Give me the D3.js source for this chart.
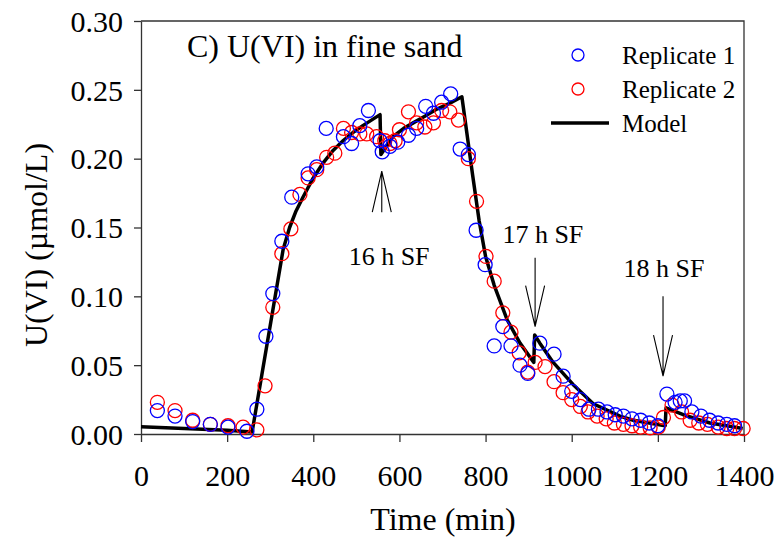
<!DOCTYPE html>
<html>
<head>
<meta charset="utf-8">
<script src="https://cdn.jsdelivr.net/npm/d3@7"></script>
<style>
  body { margin: 0; background: #fff; }
  text { font-family: "Liberation Serif", "Times New Roman", serif; fill: #000; }
</style>
</head>
<body>
<div id="chart-area"></div>
<script>
/** Data **/
const rep1Time = [38, 79, 120, 161, 202, 246, 269, 290, 306, 327, 350, 388, 408, 430, 470, 489, 508, 528,
    555, 560, 578, 596, 621, 640, 661, 679, 698, 719, 741, 760, 778, 799, 820, 840, 859, 880, 898,
    926, 959, 980, 1000, 1020, 1040, 1062, 1082, 1101, 1120, 1140, 1160, 1180, 1200,
    1221, 1240, 1252, 1262, 1279, 1300, 1320, 1340, 1360, 1378];
const rep1Value = [0.017, 0.013, 0.009, 0.007, 0.005, 0.002, 0.018, 0.071, 0.102, 0.140, 0.172, 0.189, 0.194, 0.222, 0.216, 0.211, 0.224, 0.235,
    0.213, 0.205, 0.209, 0.212, 0.217, 0.222, 0.238, 0.233, 0.241, 0.247, 0.207, 0.203, 0.148, 0.123, 0.064, 0.078, 0.064, 0.050, 0.044,
    0.066, 0.058, 0.042, 0.031, 0.025, 0.018, 0.018, 0.016, 0.014, 0.013, 0.011, 0.010, 0.008, 0.006,
    0.029, 0.023, 0.024, 0.024, 0.016, 0.013, 0.010, 0.008, 0.007, 0.006];

const rep2Time = [38, 79, 120, 161, 202, 237, 269, 288, 306, 327, 348, 369, 388, 408, 431, 450, 470, 489, 508, 524,
    547, 566, 578, 590, 600, 621, 640, 659, 679, 698, 717, 737, 760, 779, 801, 820, 840, 859, 878, 898,
    915, 938, 959, 980, 1000, 1020, 1038, 1059, 1080, 1099, 1120, 1140, 1160, 1182, 1201,
    1213, 1233, 1255, 1275, 1295, 1315, 1340, 1360, 1378, 1398];
const rep2Value = [0.023, 0.017, 0.010, 0.007, 0.006, 0.005, 0.003, 0.035, 0.092, 0.131, 0.149, 0.174, 0.186, 0.192, 0.201, 0.204, 0.222, 0.219, 0.218, 0.218,
    0.216, 0.213, 0.211, 0.213, 0.221, 0.234, 0.226, 0.223, 0.226, 0.235, 0.234, 0.228, 0.200, 0.169, 0.129, 0.111, 0.088, 0.074, 0.059, 0.045,
    0.052, 0.049, 0.038, 0.030, 0.025, 0.020, 0.016, 0.013, 0.011, 0.008, 0.007, 0.006, 0.005, 0.0045, 0.005,
    0.012, 0.021, 0.016, 0.010, 0.008, 0.007, 0.005, 0.004, 0.004, 0.004];

const modelTime = [0, 100, 200, 258, 330, 345, 360, 376, 400, 423, 446, 469, 492, 515, 535, 555,
    557, 585, 610, 632, 660, 687, 715, 745,
    770, 785, 800, 820, 850, 880, 912,
    914, 926, 957, 1003, 1050, 1112, 1143, 1180, 1217,
    1219, 1259, 1290, 1321, 1360, 1397];
const modelValue = [0.0052, 0.0040, 0.0028, 0.0015, 0.134, 0.150, 0.162, 0.172, 0.186, 0.197, 0.206, 0.213, 0.219, 0.224, 0.228, 0.232,
    0.203, 0.216, 0.222, 0.226, 0.231, 0.236, 0.240, 0.245,
    0.188, 0.155, 0.129, 0.108, 0.083, 0.066, 0.052,
    0.072, 0.066, 0.052, 0.036, 0.022, 0.013, 0.010, 0.008, 0.006,
    0.019, 0.014, 0.011, 0.008, 0.006, 0.004];

const xTicks = [0, 200, 400, 600, 800, 1000, 1200, 1400];
const yTicks = [0, 0.05, 0.10, 0.15, 0.20, 0.25, 0.30];

const annLabel = ['16 h SF', '17 h SF', '18 h SF'];
const annTime  = [559, 915, 1212];
const annTip   = [0.191, 0.078, 0.042];
const annTail  = [0.161, 0.128, 0.100];
const annTextTime  = [576, 933, 1214];
const annTextValue = [0.1228, 0.1388, 0.1141];

const legendLabels = ['Replicate 1', 'Replicate 2', 'Model'];

/** SVG **/
const margin = { left: 141, right: 37, top: 21, bottom: 106 };
const width  = 781 - margin.left - margin.right;
const height = 540 - margin.top - margin.bottom;

const svg = d3.select('#chart-area')
    .append('svg')
    .attr('width', 781)
    .attr('height', 540);

const g = svg.append('g')
    .attr('transform', `translate(${margin.left}, ${margin.top})`);

/* Scales */
const x = d3.scaleLinear().domain([0, 1400]).range([0, width]);
const y = d3.scaleLinear().domain([0, 0.30]).range([height, 0]);

/* Frame (top + right) */
g.append('path')
    .attr('d', `M0,0H${width}V${height}`)
    .attr('fill', 'none')
    .attr('stroke', '#333')
    .attr('stroke-width', 1.3);

/* Axis */
const xAxis = g.append('g')
    .attr('transform', `translate(0,${height})`)
    .call(d3.axisBottom(x).tickValues(xTicks).tickSizeInner(8).tickSizeOuter(0).tickFormat(d3.format('d')));

const yAxis = g.append('g')
    .call(d3.axisLeft(y).tickValues(yTicks).tickSizeInner(7).tickSizeOuter(0).tickFormat(d3.format('.2f')));

[xAxis, yAxis].forEach(a => {
    a.selectAll('path, line').attr('stroke', '#333').attr('stroke-width', 1.3);
    a.selectAll('text').attr('font-family', '"Liberation Serif", serif').attr('font-size', '30px').attr('fill', '#000');
});
xAxis.selectAll('text').attr('y', 31).attr('dy', '0.71em');
yAxis.selectAll('text').attr('x', -18).attr('dy', '0.34em');

/* Labels */
svg.append('text')
    .attr('x', 443).attr('y', 530)
    .attr('text-anchor', 'middle')
    .attr('font-size', '32px')
    .text('Time (min)');

svg.append('text')
    .attr('transform', 'translate(47,245) rotate(-90)')
    .attr('text-anchor', 'middle')
    .attr('font-size', '32px')
    .text('U(VI) (µmol/L)');

svg.append('text')
    .attr('x', 187).attr('y', 57)
    .attr('font-size', '32px')
    .text('C) U(VI) in fine sand');

/* Model line */
const model = modelTime.map((t, i) => [t, modelValue[i]]);
g.append('path')
    .datum(model)
    .attr('fill', 'none')
    .attr('stroke', '#000')
    .attr('stroke-width', 3.5)
    .attr('stroke-linejoin', 'round')
    .attr('d', d3.line().x(d => x(d[0])).y(d => y(d[1])));

/* Scatter */
const scatter = (times, values, colour) => {
    g.append('g').selectAll('circle')
        .data(times.map((t, i) => [t, values[i]]))
        .enter().append('circle')
            .attr('cx', d => x(d[0]))
            .attr('cy', d => y(d[1]))
            .attr('r', 7)
            .attr('fill', 'none')
            .attr('stroke', colour)
            .attr('stroke-width', 1.3);
};
scatter(rep2Time, rep2Value, '#ff0000');
scatter(rep1Time, rep1Value, '#0000ff');

/* Arrows */
annLabel.forEach((lab, i) => {
    const ax = x(annTime[i]), tip = y(annTip[i]), tail = y(annTail[i]);
    const dir = tail > tip ? 1 : -1;
    g.append('path')
        .attr('d', `M${ax},${tail}L${ax},${tip}M${ax - 9.5},${tip + dir * 41}L${ax},${tip}L${ax + 9.5},${tip + dir * 41}`)
        .attr('fill', 'none')
        .attr('stroke', '#000')
        .attr('stroke-width', 1.1);
    g.append('text')
        .attr('x', x(annTextTime[i])).attr('y', y(annTextValue[i]))
        .attr('text-anchor', 'middle')
        .attr('font-size', '26px')
        .text(lab);
});

/* Legend */
const legend = svg.append('g').attr('transform', 'translate(578,55)');
legendLabels.forEach((lab, i) => {
    const row = legend.append('g').attr('transform', `translate(0,${i * 34})`);
    if (i < 2) {
        row.append('circle').attr('r', 6).attr('fill', 'none')
            .attr('stroke', i === 0 ? '#0000ff' : '#ff0000').attr('stroke-width', 1.3);
    } else {
        row.append('line').attr('x1', -27).attr('x2', 31)
            .attr('stroke', '#000').attr('stroke-width', 3.5);
    }
    row.append('text').attr('x', 44).attr('y', 9)
        .attr('font-size', '25px')
        .text(lab);
});
</script>
</body>
</html>
